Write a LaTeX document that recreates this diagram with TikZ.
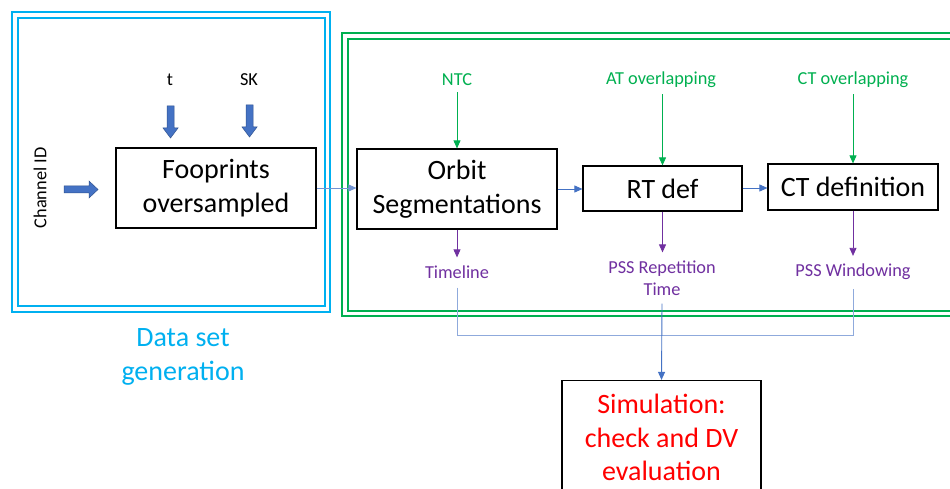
\documentclass[tikz,border=0pt]{standalone}
\usepackage{fontspec}
\setmainfont{Carlito}
\usetikzlibrary{arrows.meta}
\definecolor{skyb}{HTML}{00B0F0}
\definecolor{grn}{HTML}{00B050}
\definecolor{purp}{HTML}{7030A0}
\definecolor{blu}{HTML}{4472C4}
\definecolor{bludk}{HTML}{2F528F}
\definecolor{brkc}{HTML}{8FAADC}
\definecolor{redt}{HTML}{FF0000}
\begin{document}
\begin{tikzpicture}[x=1pt,y=-1pt,
  box/.style={draw=black, line width=1.2pt, fill=white, align=center, inner sep=0pt,
    font=\fontsize{28}{33.5}\selectfont},
  lbl/.style={align=center, inner sep=0pt, font=\fontsize{18.3}{22}\selectfont},
  tip/.style={-{Triangle[length=8pt,width=7pt]}},
  garrow/.style={tip, draw=grn, line width=0.8pt},
  parrow/.style={tip, draw=purp, line width=0.8pt},
  barrow/.style={tip, draw=blu, line width=0.9pt},
  larrow/.style={tip, draw=blu!75, line width=0.8pt},
  brk/.style={draw=brkc, line width=0.9pt},
  blockarr/.style={fill=blu, draw=bludk, line width=0.5pt}]
\useasboundingbox (0,0) rectangle (950,489);
\fill[white] (0,0) rectangle (950,489);

% frames
\draw[skyb, line width=1.3pt] (12,12) rectangle (330,312);
\draw[skyb, line width=1.3pt] (18,18) rectangle (325,306);
\draw[grn, line width=1.3pt] (342,33) rectangle (970,316);
\draw[grn, line width=1.3pt] (348,39) rectangle (965,311);

% boxes
\node[box, minimum width=200, minimum height=80] (foo) at (216,188) {Fooprints\\oversampled};
\node[box, minimum width=200, minimum height=80] (orbit) at (457,189) {Orbit\\Segmentations};
\node[box, minimum width=159, minimum height=45] (rt) at (662.5,188.5) {RT def};
\node[box, minimum width=170, minimum height=46] (ct) at (853,187) {CT definition};
\node[box, minimum width=199, minimum height=114, text=redt] (sim) at (661.5,437.5) {Simulation:\\check and DV\\evaluation};

% labels
\node[lbl] (t) at (170,80) {t};
\node[lbl] (sk) at (249,80) {SK};
\node[lbl, rotate=90] (chid) at (40,188) {Channel ID};
\node[lbl, text=grn] (ntc) at (457,80) {NTC};
\node[lbl, text=grn] (at) at (661,80) {AT overlapping};
\node[lbl, text=grn] (cto) at (853,80) {CT overlapping};
\node[lbl, text=purp] (tl) at (457,272) {Timeline};
\node[lbl, text=purp] (pssr) at (662,278) {PSS Repetition\\Time};
\node[lbl, text=purp] (pssw) at (853,272) {PSS Windowing};
\node[align=center, inner sep=0pt, text=skyb, font=\fontsize{28}{33.5}\selectfont] (dsg) at (183,357) {Data set\\generation};

% block arrows
\path[blockarr] (167,106) -- (174,106) -- (174,128) -- (178,128) -- (170.5,138) -- (163,128) -- (167,128) -- cycle;
\path[blockarr] (246,105) -- (253,105) -- (253,127) -- (257,127) -- (249.5,137) -- (242,127) -- (246,127) -- cycle;
\path[blockarr] (64,186) -- (89,186) -- (89,181) -- (98,189.5) -- (89,198) -- (89,193) -- (64,193) -- cycle;

% flow arrows
\draw[larrow] (foo.east) -- (foo.east -| orbit.west);
\draw[barrow] (orbit.east |- 0,189) -- (rt.west |- 0,189);
\draw[barrow] (rt.east |- 0,188) -- (ct.west |- 0,188);

% green inputs
\draw[garrow, shorten <=6pt] (ntc.south) -- (orbit.north);
\draw[garrow, shorten <=6pt] (at.south -| rt.north) -- (rt.north);
\draw[garrow, shorten <=6pt] (cto.south) -- (ct.north);

% purple outputs
\draw[parrow, shorten >=8pt] (orbit.south) -- (tl.north);
\draw[parrow, shorten >=8pt] (rt.south) -- (rt.south |- pssr.north);
\draw[parrow, shorten >=8pt] (ct.south) -- (pssw.north);

% bracket to simulation
\draw[brk] ([yshift=-9pt]tl.south) -- (tl.south |- 0,335) -- (pssw.south |- 0,335) -- ([yshift=-9pt]pssw.south);
\draw[barrow] ([yshift=-8pt]pssr.south) -- (sim.north);
\end{tikzpicture}
\end{document}
